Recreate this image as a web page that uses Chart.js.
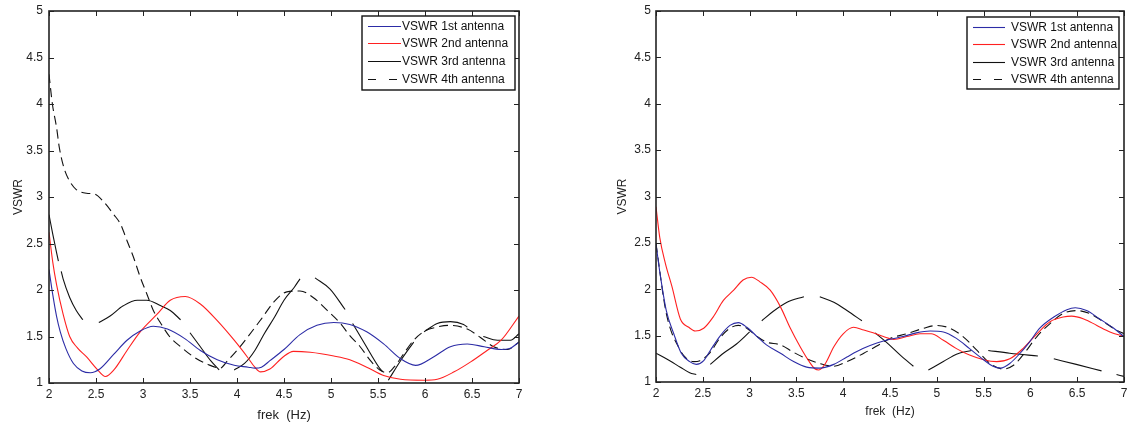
<!DOCTYPE html>
<html><head><meta charset="utf-8">
<script src="https://cdn.jsdelivr.net/npm/chart.js@4/dist/chart.umd.min.js"></script>
<style>
html,body{margin:0;padding:0;background:#fff;width:1127px;height:426px;overflow:hidden}
canvas{position:absolute;top:0}
</style></head><body>
<canvas id="c1" width="563" height="426" style="left:0"></canvas>
<canvas id="c2" width="564" height="426" style="left:563px"></canvas>
<script>
// ---- tick labels ----
const xTickValues = [2, 2.5, 3, 3.5, 4, 4.5, 5, 5.5, 6, 6.5, 7];
const xTickLabels = ['2', '2.5', '3', '3.5', '4', '4.5', '5', '5.5', '6', '6.5', '7'];
const yTickValues = [1, 1.5, 2, 2.5, 3, 3.5, 4, 4.5, 5];
const yTickLabels = ['1', '1.5', '2', '2.5', '3', '3.5', '4', '4.5', '5'];
const seriesNames = ['VSWR 1st antenna', 'VSWR 2nd antenna', 'VSWR 3rd antenna', 'VSWR 4th antenna'];
const xTitle = 'frek  (Hz)';
const yTitle = 'VSWR';

// ---- left panel ----
const leftFreq1 = [2.0, 2.04, 2.08, 2.12, 2.18, 2.26, 2.35, 2.44, 2.54, 2.69, 2.83, 2.97, 3.11, 3.26, 3.44, 3.61, 3.79, 3.97, 4.12, 4.19, 4.26, 4.35, 4.5, 4.67, 4.85, 5.03, 5.2, 5.38, 5.56, 5.74, 5.9, 6.09, 6.27, 6.45, 6.63, 6.81, 6.9, 7.0];
const leftVswr1 = [2.22, 1.95, 1.72, 1.55, 1.37, 1.21, 1.13, 1.11, 1.15, 1.31, 1.46, 1.56, 1.61, 1.58, 1.48, 1.35, 1.25, 1.19, 1.17, 1.16, 1.17, 1.24, 1.36, 1.52, 1.62, 1.65, 1.63, 1.55, 1.42, 1.26, 1.19, 1.28, 1.39, 1.42, 1.39, 1.36, 1.37, 1.44];

const leftFreq2 = [2.0, 2.04, 2.08, 2.15, 2.22, 2.3, 2.4, 2.51, 2.6, 2.69, 2.83, 2.97, 3.15, 3.29, 3.45, 3.61, 3.79, 3.97, 4.11, 4.19, 4.25, 4.35, 4.49, 4.6, 4.78, 5.03, 5.2, 5.38, 5.56, 5.74, 5.99, 6.13, 6.31, 6.49, 6.66, 6.81, 7.0];
const leftVswr2 = [2.62, 2.3, 2.06, 1.74, 1.5, 1.38, 1.28, 1.15, 1.07, 1.14, 1.35, 1.55, 1.74, 1.89, 1.93, 1.85, 1.67, 1.46, 1.28, 1.17, 1.12, 1.15, 1.28, 1.34, 1.33, 1.29, 1.25, 1.17, 1.08, 1.04, 1.03, 1.04, 1.12, 1.23, 1.35, 1.46, 1.72];

const leftFreq3 = [2.0, 2.04, 2.1, 2.115, 2.13, 2.15, 2.22, 2.29, 2.36, 2.45, 2.53, 2.65, 2.79, 2.94, 3.04, 3.19, 3.29, 3.4, 3.45, 3.5, 3.61, 3.72, 3.81, 3.9, 3.97, 4.08, 4.19, 4.29, 4.4, 4.5, 4.61, 4.67, 4.75, 4.83, 4.99, 5.15, 5.19, 5.23, 5.36, 5.51, 5.55, 5.58, 5.61, 5.74, 5.88, 5.94, 5.99, 6.13, 6.27, 6.41, 6.45, 6.53, 6.62, 6.77, 6.91, 7.0];
const leftVswr3 = [2.81, 2.6, 2.31, null, 2.2, 2.12, 1.92, 1.78, 1.68, null, 1.65, 1.72, 1.83, 1.89, 1.89, 1.83, 1.78, 1.68, null, 1.54, 1.39, 1.24, 1.14, null, 1.14, 1.21, 1.35, 1.53, 1.71, 1.89, 2.03, 2.12, null, 2.13, 2.01, 1.79, null, 1.64, 1.42, 1.17, 1.12, null, 1.03, 1.24, 1.44, null, 1.55, 1.64, 1.66, 1.63, 1.6, null, 1.5, 1.46, 1.46, 1.53];

const leftFreq4 = [2.0, 2.036, 2.08, 2.11, 2.16, 2.22, 2.29, 2.4, 2.49, 2.58, 2.69, 2.76, 2.83, 2.9, 2.97, 3.04, 3.11, 3.19, 3.29, 3.4, 3.54, 3.69, 3.82, 3.9, 4.0, 4.11, 4.26, 4.4, 4.53, 4.67, 4.81, 4.96, 5.1, 5.2, 5.31, 5.42, 5.52, 5.6, 5.67, 5.77, 5.88, 6.0, 6.12, 6.25, 6.45, 6.59, 6.73, 6.88, 7.0];
const leftVswr4 = [4.32, 4.0, 3.75, 3.53, 3.31, 3.17, 3.08, 3.04, 3.03, 2.95, 2.81, 2.71, 2.53, 2.35, 2.14, 1.96, 1.78, 1.64, 1.49, 1.39, 1.28, 1.2, 1.16, 1.24, 1.35, 1.49, 1.69, 1.88, 1.98, 1.99, 1.92, 1.78, 1.64, 1.51, 1.39, 1.24, 1.14, 1.11, 1.17, 1.31, 1.46, 1.56, 1.6, 1.62, 1.58, 1.49, 1.39, 1.36, 1.44];

// ---- right panel ----
const rightFreq1 = [2.0, 2.04, 2.11, 2.19, 2.27, 2.36, 2.43, 2.51, 2.58, 2.68, 2.79, 2.88, 2.97, 3.08, 3.18, 3.33, 3.47, 3.61, 3.75, 3.9, 4.04, 4.21, 4.36, 4.5, 4.64, 4.78, 4.93, 5.07, 5.21, 5.35, 5.5, 5.6, 5.68, 5.78, 5.89, 5.99, 6.1, 6.25, 6.39, 6.48, 6.6, 6.74, 6.89, 7.0];
const rightVswr1 = [2.49, 2.19, 1.77, 1.52, 1.31, 1.22, 1.19, 1.23, 1.34, 1.49, 1.61, 1.64, 1.59, 1.49, 1.4, 1.31, 1.22, 1.16, 1.15, 1.19, 1.27, 1.36, 1.42, 1.46, 1.49, 1.53, 1.55, 1.54, 1.47, 1.36, 1.24, 1.17, 1.15, 1.2, 1.31, 1.43, 1.58, 1.7, 1.78, 1.8, 1.77, 1.68, 1.58, 1.49];

const rightFreq2 = [2.0, 2.04, 2.1, 2.17, 2.26, 2.35, 2.42, 2.51, 2.61, 2.72, 2.83, 2.93, 3.02, 3.11, 3.22, 3.33, 3.43, 3.54, 3.63, 3.7, 3.74, 3.81, 3.9, 4.0, 4.11, 4.22, 4.32, 4.43, 4.54, 4.68, 4.82, 4.94, 5.07, 5.21, 5.35, 5.5, 5.64, 5.78, 5.92, 6.07, 6.21, 6.35, 6.44, 6.57, 6.71, 6.85, 7.0];
const rightVswr2 = [2.89, 2.56, 2.28, 2.03, 1.68, 1.59, 1.55, 1.58, 1.7, 1.88, 1.99, 2.1, 2.13, 2.08, 1.99, 1.81, 1.59, 1.38, 1.23, 1.14, 1.13, 1.2, 1.38, 1.52, 1.59, 1.56, 1.53, 1.49, 1.46, 1.49, 1.52, 1.52, 1.45, 1.36, 1.29, 1.24, 1.22, 1.25, 1.36, 1.52, 1.65, 1.7, 1.71, 1.68, 1.61, 1.54, 1.49];

const rightFreq3 = [2.0, 2.11, 2.26, 2.36, 2.43, 2.5, 2.58, 2.72, 2.86, 3.0, 3.06, 3.13, 3.25, 3.4, 3.58, 3.66, 3.75, 3.9, 4.04, 4.2, 4.27, 4.34, 4.46, 4.61, 4.75, 4.83, 4.91, 5.07, 5.21, 5.37, 5.46, 5.55, 5.78, 6.08, 6.16, 6.25, 6.49, 6.76, 6.84, 6.92, 7.0];
const rightVswr3 = [1.31, 1.25, 1.16, 1.1, 1.08, null, 1.19, 1.31, 1.41, 1.54, null, 1.66, 1.76, 1.86, 1.92, null, 1.92, 1.86, 1.77, 1.66, null, 1.53, 1.43, 1.29, 1.17, null, 1.13, 1.22, 1.3, 1.34, null, 1.34, 1.31, 1.28, null, 1.25, 1.19, 1.12, null, 1.08, 1.06];

const rightFreq4 = [2.0, 2.11, 2.26, 2.33, 2.4, 2.47, 2.58, 2.68, 2.79, 2.88, 2.97, 3.08, 3.18, 3.33, 3.47, 3.61, 3.75, 3.9, 4.04, 4.22, 4.38, 4.5, 4.68, 4.86, 5.0, 5.14, 5.28, 5.43, 5.57, 5.71, 5.82, 5.92, 6.07, 6.21, 6.35, 6.49, 6.63, 6.78, 6.92, 7.0];
const rightVswr4 = [2.49, 1.74, 1.34, 1.25, 1.22, 1.23, 1.32, 1.47, 1.58, 1.61, 1.58, 1.49, 1.43, 1.4, 1.32, 1.25, 1.2, 1.17, 1.22, 1.31, 1.4, 1.47, 1.52, 1.58, 1.61, 1.58, 1.49, 1.34, 1.2, 1.14, 1.18, 1.29, 1.49, 1.63, 1.74, 1.77, 1.74, 1.65, 1.56, 1.52];

// ---- styling / build ----
Chart.defaults.font.family = '"Liberation Sans", Arial, Helvetica, sans-serif';
Chart.defaults.color = '#222';

const COLORS = ['#2c2ca6', '#ff2020', '#111111', '#111111'];
const DASHES = [[], [], [], [9, 5]];

function pts(fs, vs) { return fs.map((f, i) => ({x: f, y: vs[i]})); }

function makeDatasets(list) {
  return list.map((d, i) => ({
    label: seriesNames[i],
    data: pts(d[0], d[1]),
    borderColor: COLORS[i],
    borderWidth: 1.1,
    borderDash: DASHES[i],
    pointRadius: 0,
    fill: false,
    spanGaps: false,
    cubicInterpolationMode: 'monotone'
  }));
}

const framePlugin = {
  id: 'frame',
  afterDatasetsDraw(chart, args, opts) {
    const {ctx, chartArea: a, scales} = chart;
    const x = scales.x, y = scales.y;
    ctx.save();
    ctx.strokeStyle = '#222';
    ctx.lineWidth = 1;
    ctx.setLineDash([]);
    ctx.beginPath();
    x.ticks.forEach(t => {
      const px = Math.round(x.getPixelForValue(t.value)) + 0.5;
      ctx.moveTo(px, a.bottom); ctx.lineTo(px, a.bottom - 5);
      ctx.moveTo(px, a.top); ctx.lineTo(px, a.top + 5);
    });
    y.ticks.forEach(t => {
      const py = Math.round(y.getPixelForValue(t.value)) + 0.5;
      ctx.moveTo(a.left, py); ctx.lineTo(a.left + 5, py);
      ctx.moveTo(a.right, py); ctx.lineTo(a.right - 5, py);
    });
    ctx.stroke();
    ctx.lineWidth = 1.6;
    ctx.strokeRect(a.left, a.top, a.right - a.left, a.bottom - a.top);

    // legend
    const L = opts;
    const bx = a.right - L.dxRight, by = a.top + L.dyTop;
    ctx.fillStyle = '#fff';
    ctx.fillRect(bx, by, L.w, L.h);
    ctx.lineWidth = 1.4;
    ctx.strokeStyle = '#111';
    ctx.strokeRect(bx, by, L.w, L.h);
    ctx.font = '12px "Liberation Sans", Arial, Helvetica, sans-serif';
    ctx.textBaseline = 'middle';
    ctx.textAlign = 'left';
    chart.data.datasets.forEach((ds, i) => {
      const ry = Math.round(by + L.row0 + i * L.rowStep) + 0.5;
      ctx.strokeStyle = ds.borderColor;
      ctx.lineWidth = 1.1;
      ctx.setLineDash(i === 3 ? [8, 13] : []);
      ctx.beginPath();
      ctx.moveTo(bx + L.s0, ry); ctx.lineTo(bx + L.s1, ry);
      ctx.stroke();
      ctx.setLineDash([]);
      ctx.fillStyle = '#111';
      ctx.fillText(ds.label, bx + L.tx, ry);
    });
    ctx.restore();
  }
};

function makeChart(id, datasets, cfg) {
  return new Chart(document.getElementById(id), {
    type: 'line',
    data: {datasets},
    options: {
      responsive: false,
      animation: false,
      layout: {padding: cfg.padding},
      plugins: {legend: {display: false}, tooltip: {enabled: false}, frame: cfg.legend},
      scales: {
        x: {
          type: 'linear', min: 2, max: 7,
          afterBuildTicks: s => { s.ticks = xTickValues.map(v => ({value: v})); },
          afterFit: s => { s.height = cfg.xHeight; s.paddingLeft = 0; s.paddingRight = 0; },
          grid: {display: false, drawTicks: false},
          border: {display: false},
          ticks: {padding: 4, font: {size: 12}, color: '#222', maxRotation: 0,
                  callback: (v, i) => xTickLabels[i]},
          title: {display: true, text: xTitle, font: {size: cfg.xTitleSize}, color: '#222', padding: {top: 0, bottom: cfg.xTitlePad}}
        },
        y: {
          type: 'linear', min: 1, max: 5,
          afterBuildTicks: s => { s.ticks = yTickValues.map(v => ({value: v})); },
          afterFit: s => { s.width = 49; s.paddingTop = 0; s.paddingBottom = 0; },
          grid: {display: false, drawTicks: false},
          border: {display: false},
          ticks: {padding: cfg.yPad, font: {size: 12}, color: '#222',
                  callback: (v, i) => yTickLabels[i]},
          title: {display: true, text: yTitle, font: {size: 12}, color: '#222', padding: {top: cfg.yTitlePad, bottom: 0}}
        }
      }
    },
    plugins: [framePlugin]
  });
}

makeChart('c1', makeDatasets([[leftFreq1, leftVswr1], [leftFreq2, leftVswr2], [leftFreq3, leftVswr3], [leftFreq4, leftVswr4]]), {
  padding: {left: 0, right: 44, top: 11, bottom: 0},
  xHeight: 43, xTitleSize: 13, xTitlePad: 3.2, yPad: 6, yTitlePad: 11,
  legend: {dxRight: 157, dyTop: 5, w: 153, h: 74, row0: 9.5, rowStep: 17.7, s0: 6, s1: 39, tx: 40}
});

makeChart('c2', makeDatasets([[rightFreq1, rightVswr1], [rightFreq2, rightVswr2], [rightFreq3, rightVswr3], [rightFreq4, rightVswr4]]), {
  padding: {left: 44, right: 3, top: 11, bottom: 0},
  xHeight: 44, xTitleSize: 12, xTitlePad: 6.8, yPad: 5, yTitlePad: 8.8,
  legend: {dxRight: 157, dyTop: 6, w: 152, h: 72, row0: 10, rowStep: 17.3, s0: 6, s1: 38, tx: 44}
});
</script>
</body></html>
